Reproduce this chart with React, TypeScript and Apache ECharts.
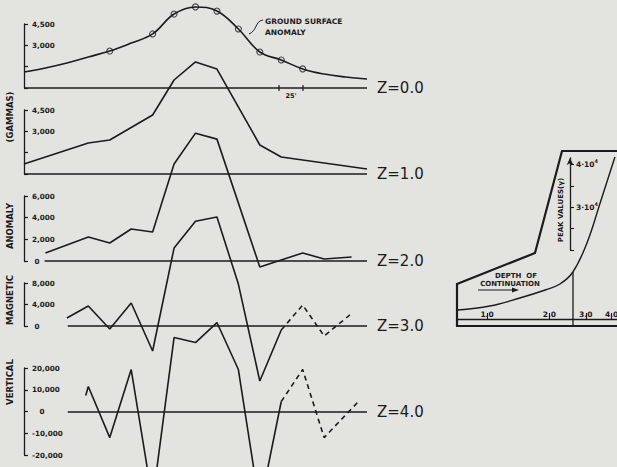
import React, { useEffect, useRef } from 'react';
import * as echarts from 'echarts';

// ---- main profile data (distance along profile in feet, vertical anomaly in gammas)
const stationsFt = [0, 25, 50, 75, 100, 125, 150, 175, 200, 225, 250, 275, 300, 325, 350, 375, 400];
const groundGammas = [1130, 1410, 1760, 2180, 2600, 3160, 3800, 5200, 5700, 5410, 4150, 2530, 1970, 1340, 980, 770, 630];
const groundObservedFt = [100, 150, 175, 200, 225, 250, 275, 300, 325];

const z1Ft = [0, 75, 100, 150, 175, 200, 225, 275, 300, 350, 400];
const z1Gammas = [700, 2180, 2390, 4150, 6610, 7880, 7380, 2040, 1200, 770, 350];

const z2Ft = [25, 75, 100, 125, 150, 175, 200, 225, 275, 325, 350, 382];
const z2Gammas = [740, 2210, 1660, 2950, 2680, 8950, 11800, 11250, -550, 740, 190, 370];

const z3Ft = [50, 75, 100, 125, 150, 175, 200, 225, 250, 275, 300];
const z3Gammas = [1490, 3720, -560, 4280, -4650, 14500, 19500, 20270, 7800, -10230, -740];
const z3DashFt = [300, 325, 350, 380];
const z3DashGammas = [-740, 3900, -1860, 2050];

const z4Ft = [72, 75, 100, 125, 150, 175, 200, 225, 250, 275, 300];
const z4Gammas = [7400, 11500, -12000, 19300, -41000, 34000, 31700, 40900, 19300, -44000, 4600];
const z4DashFt = [300, 325, 350, 390];
const z4DashGammas = [4600, 19300, -12000, 4600];

const depthLabels = ['Z=0.0', 'Z=1.0', 'Z=2.0', 'Z=3.0', 'Z=4.0'];

// ---- inset: peak values vs depth of continuation
const insetDepth = [0.72, 1.03, 1.44, 1.91, 2.25, 2.6, 3.04, 3.52, 4.15];
const insetPeak = [5980, 6910, 8780, 10650, 12050, 14860, 21640, 30980, 41730];
const insetDepthTicks = [1, 2, 3, 4];
const insetPeakTicks = [20000, 25000, 30000, 35000, 40000];
const insetPeakLabels = [30000, 40000];

const INK = '#1b1b1b';
const BG = '#e3e3df';
const FONT = 'DejaVu Sans';

const zip = (xs: number[], ys: number[]) => xs.map((x, i) => [x, ys[i]]);
const fmtNum = (v: number) => {
  const s = Math.abs(v).toString().replace(/\B(?=(\d{3})+(?!\d))/g, ',');
  return (v < 0 ? '-' : '') + s;
};

const panels = [
  { top: 24, height: 64, min: 0, max: 4500, interval: 1500, fmt: (v: number) => (v >= 3000 ? fmtNum(v) : ''), start: 0 },
  { top: 110, height: 64, min: 0, max: 4500, interval: 1500, fmt: (v: number) => (v >= 3000 ? fmtNum(v) : ''), start: 0 },
  { top: 196, height: 65, min: 0, max: 6000, interval: 2000, fmt: (v: number) => (v === 0 ? ' 0' : fmtNum(v)), start: 24 },
  { top: 283, height: 43, min: 0, max: 8000, interval: 4000, fmt: (v: number) => (v === 0 ? ' 0' : fmtNum(v)), start: 51 },
  { top: 368, height: 87, min: -20000, max: 20000, interval: 10000, fmt: (v: number) => (v === 0 ? '   0' : fmtNum(v)), start: 51 },
];

const lineStyle = { color: INK, width: 1.6 };

function baseline(i: number) {
  return {
    silent: true,
    symbol: ['none', 'none'],
    lineStyle: { color: INK, width: 1.6, type: 'solid' },
    label: {
      show: true,
      position: 'end',
      distance: 10,
      formatter: depthLabels[i],
      color: INK,
      fontSize: 15,
      fontFamily: FONT,
    },
    data: [[{ coord: [panels[i].start, 0] }, { coord: [400, 0] }]],
  };
}

export default function App() {
  const ref = useRef<HTMLDivElement>(null);
  useEffect(() => {
    if (!ref.current) return;
    const chart = echarts.init(ref.current, undefined, { renderer: 'svg' });

    const grids: any[] = panels.map((p) => ({
      left: 24, width: 343, top: p.top, height: p.height, outerBoundsMode: 'none',
    }));
    grids.push({ left: 457, top: 158, height: 92, width: 223, outerBoundsMode: 'none' });

    const xAxes: any[] = panels.map((_, i) => ({
      type: 'value', gridIndex: i, min: 0, max: 400, show: false,
    }));
    xAxes.push({
      type: 'log', gridIndex: 5, min: 0.716, max: 8.56, position: 'bottom', offset: 69,
      axisLine: { show: true, onZero: false, lineStyle: { color: INK, width: 1.3 } },
      axisTick: { show: true, inside: true, length: 6, customValues: insetDepthTicks, lineStyle: { color: INK, width: 1.1 } },
      axisLabel: {
        show: true, inside: true, margin: 1, customValues: insetDepthTicks,
        formatter: (v: number) => v.toFixed(1),
        fontSize: 7.5, fontWeight: 'bold', fontFamily: FONT, color: INK,
      },
      splitLine: { show: false },
      minorTick: { show: false },
    });

    const yAxes: any[] = panels.map((p, i) => ({
      type: 'value', gridIndex: i, min: p.min, max: p.max, interval: p.interval,
      axisLine: { show: true, onZero: false, lineStyle: { color: INK, width: 1.3 } },
      axisTick: { show: true, inside: true, length: 4, lineStyle: { color: INK, width: 1.2 } },
      axisLabel: {
        inside: true, margin: 8, formatter: p.fmt,
        fontSize: 7.2, fontWeight: 'bold', fontFamily: FONT, color: INK,
      },
      splitLine: { show: false },
    }));
    yAxes.push({
      type: 'value', gridIndex: 5, min: 20000, max: 41500, offset: -113,
      axisLine: { show: true, onZero: false, symbol: ['none', 'arrow'], symbolSize: [5, 7], lineStyle: { color: INK, width: 1.3 } },
      axisTick: { show: true, inside: true, length: 4, customValues: insetPeakTicks, lineStyle: { color: INK, width: 1.1 } },
      axisLabel: {
        show: true, inside: true, margin: 6, customValues: insetPeakLabels,
        formatter: (v: number) => `{a|${v / 10000}·10}{s|4}`,
        rich: {
          a: { fontSize: 7.5, fontWeight: 'bold', fontFamily: FONT, color: INK },
          s: { fontSize: 5, fontWeight: 'bold', fontFamily: FONT, color: INK, padding: [0, 0, 6, 0] },
        },
      },
      splitLine: { show: false },
    });

    const series: any[] = [
      {
        type: 'line', xAxisIndex: 0, yAxisIndex: 0, data: zip(stationsFt, groundGammas),
        smooth: 0.4, symbol: 'none', clip: false, lineStyle, markLine: baseline(0),
      },
      {
        type: 'scatter', xAxisIndex: 0, yAxisIndex: 0,
        data: groundObservedFt.map((ft) => [ft, groundGammas[stationsFt.indexOf(ft)]]),
        symbol: 'circle', symbolSize: 6, clip: false,
        itemStyle: { color: BG, borderColor: INK, borderWidth: 1.1 },
      },
      {
        type: 'line', xAxisIndex: 1, yAxisIndex: 1, data: zip(z1Ft, z1Gammas),
        symbol: 'none', clip: false, lineStyle, markLine: baseline(1),
      },
      {
        type: 'line', xAxisIndex: 2, yAxisIndex: 2, data: zip(z2Ft, z2Gammas),
        symbol: 'none', clip: false, lineStyle, markLine: baseline(2),
      },
      {
        type: 'line', xAxisIndex: 3, yAxisIndex: 3, data: zip(z3Ft, z3Gammas),
        symbol: 'none', clip: false, lineStyle, markLine: baseline(3),
      },
      {
        type: 'line', xAxisIndex: 3, yAxisIndex: 3, data: zip(z3DashFt, z3DashGammas),
        symbol: 'none', clip: false, lineStyle: { ...lineStyle, type: [5, 4] },
      },
      {
        type: 'line', xAxisIndex: 4, yAxisIndex: 4, data: zip(z4Ft, z4Gammas),
        symbol: 'none', clip: false, lineStyle, markLine: baseline(4),
      },
      {
        type: 'line', xAxisIndex: 4, yAxisIndex: 4, data: zip(z4DashFt, z4DashGammas),
        symbol: 'none', clip: false, lineStyle: { ...lineStyle, type: [5, 4] },
      },
      {
        type: 'line', xAxisIndex: 5, yAxisIndex: 5, data: zip(insetDepth, insetPeak),
        smooth: 0.4, symbol: 'none', clip: false, lineStyle: { color: INK, width: 1.4 },
      },
    ];

    const smallText = (text: string, x: number, y: number, extra: any = {}) => ({
      type: 'text', x, y, silent: true, ...extra,
      style: {
        text, fill: INK, fontSize: 7.5, fontWeight: 'bold', fontFamily: FONT,
        align: 'center', verticalAlign: 'middle', ...(extra.style || {}),
      },
    });
    const rot = { rotation: Math.PI / 2 };

    const graphic: any[] = [
      smallText('VERTICAL', 10, 382, { ...rot, style: { fontSize: 8.5 } }),
      smallText('MAGNETIC', 10, 300, { ...rot, style: { fontSize: 8.5 } }),
      smallText('ANOMALY', 10, 226, { ...rot, style: { fontSize: 8.5 } }),
      smallText('(GAMMAS)', 10, 117, { ...rot, style: { fontSize: 8.5 } }),
      smallText('GROUND SURFACE', 265, 21, { style: { align: 'left' } }),
      smallText('ANOMALY', 265, 32, { style: { align: 'left' } }),
      {
        type: 'bezierCurve', silent: true,
        shape: { x1: 249, y1: 34, x2: 263, y2: 20, cpx1: 257, cpy1: 31, cpx2: 255, cpy2: 21 },
        style: { stroke: INK, lineWidth: 1, fill: 'none' },
      },
      smallText("25'", 291, 96, { style: { fontSize: 6.5 } }),
      { type: 'line', silent: true, shape: { x1: 279, y1: 85, x2: 279, y2: 91 }, style: { stroke: INK, lineWidth: 1.2 } },
      { type: 'line', silent: true, shape: { x1: 303, y1: 85, x2: 303, y2: 91 }, style: { stroke: INK, lineWidth: 1.2 } },
      // inset frame
      {
        type: 'polyline', silent: true,
        shape: { points: [[640, 151], [562, 151], [535, 253], [457, 284], [457, 326], [640, 326]] },
        style: { stroke: INK, lineWidth: 2.2, fill: 'none' },
      },
      { type: 'line', silent: true, shape: { x1: 573, y1: 272, x2: 573, y2: 326 }, style: { stroke: INK, lineWidth: 1.3 } },
      smallText('DEPTH  OF', 516, 276, { style: { fontSize: 7 } }),
      smallText('CONTINUATION', 510, 284, { style: { fontSize: 7 } }),
      { type: 'line', silent: true, shape: { x1: 478, y1: 290, x2: 514, y2: 290 }, style: { stroke: INK, lineWidth: 1.1 } },
      { type: 'polygon', silent: true, shape: { points: [[519, 290], [512, 287.5], [512, 292.5]] }, style: { fill: INK } },
      smallText('PEAK VALUES(γ)', 561, 210, { ...rot, style: { fontSize: 7 } }),
    ];

    chart.setOption({
      animation: false,
      backgroundColor: BG,
      grid: grids,
      xAxis: xAxes,
      yAxis: yAxes,
      series,
      graphic,
    });
    return () => chart.dispose();
  }, []);

  return (
    <div
      ref={ref}
      style={{ position: 'fixed', left: 0, top: 0, width: 617, height: 467, background: BG }}
    />
  );
}
